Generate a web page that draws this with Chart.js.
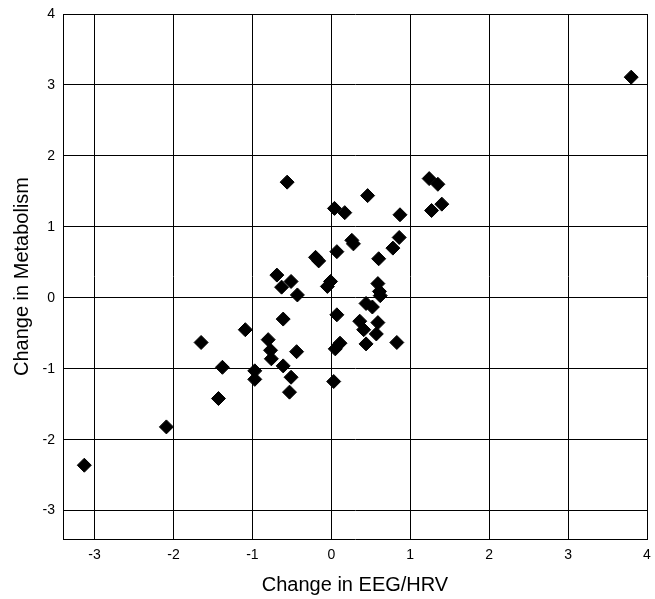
<!DOCTYPE html>
<html>
<head>
<meta charset="utf-8">
<title>Change in Metabolism vs Change in EEG/HRV</title>
<script src="https://cdn.jsdelivr.net/npm/chart.js@4/dist/chart.umd.min.js"></script>
<style>
  html, body { margin: 0; padding: 0; background: #fff; }
  #wrap { width: 655px; height: 599px; position: relative; }
</style>
</head>
<body>
<div id="wrap"><canvas id="scatterChart"></canvas></div>
<script>
// data
var eegHrv = [3.80, -3.13, -2.09, -1.43, -0.56, 0.04, 0.17, 0.46, 0.87, 1.24,
              1.35, 1.27, 1.40, 0.86, 0.78, 0.26, 0.28, 0.07, 0.60, -0.20,
              -0.16, -0.69, -0.51, -0.63, -0.43, -0.01, -0.05, 0.59, 0.62, 0.61,
              0.44, 0.52, 0.07, -0.61, 0.59, 0.36, 0.41, 0.57, 0.44, 0.83,
              0.11, 0.05, -1.09, -1.65, -0.80, -0.77, -0.76, -0.44, -0.61, -1.38,
              -0.97, -0.97, -0.51, -0.53, 0.03];
var metabolism = [3.11, -2.36, -1.82, -1.42, 1.63, 1.26, 1.20, 1.44, 1.17, 1.68,
                  1.60, 1.23, 1.32, 0.85, 0.70, 0.81, 0.76, 0.65, 0.55, 0.57,
                  0.52, 0.32, 0.23, 0.15, 0.04, 0.23, 0.16, 0.20, 0.03, 0.09,
                  -0.08, -0.13, -0.24, -0.30, -0.35, -0.33, -0.45, -0.51, -0.65, -0.63,
                  -0.64, -0.72, -0.45, -0.63, -0.59, -0.74, -0.86, -0.76, -0.96, -0.98,
                  -1.03, -1.15, -1.12, -1.33, -1.18];

var xTicks = [-3, -2, -1, 0, 1, 2, 3, 4];
var yTicks = [-3, -2, -1, 0, 1, 2, 3, 4];

var fontFamily = '"Liberation Sans", Arial, sans-serif';

var points = [];
for (var i = 0; i < eegHrv.length; i++) {
    points.push({ x: eegHrv[i], y: metabolism[i] });
}

function axisOptions(ticks, titleText, isX) {
    return {
        type: 'linear',
        min: -3.4,
        max: 4,
        afterBuildTicks: function(scale) {
            scale.ticks = ticks.map(function(v) { return { value: v }; });
        },
        afterFit: function(scale) {
            // fixed axis sizes so the plot area lines up with the reference
            if (isX) {
                scale.height = 60;
                scale.paddingLeft = 0;
                scale.paddingRight = 0;
            } else {
                scale.width = 63;
                scale.paddingTop = 0;
                scale.paddingBottom = 0;
            }
        },
        grid: {
            color: '#000',
            lineWidth: 1,
            drawTicks: false,
            tickLength: 0
        },
        border: { display: true, color: '#000', width: 1 },
        ticks: {
            color: '#000',
            padding: 8,
            font: { family: fontFamily, size: 14 },
            callback: function(v) { return v; }
        },
        title: {
            display: true,
            text: titleText,
            color: '#000',
            font: { family: fontFamily, size: 20 },
            padding: isX ? { top: 0, bottom: 2 } : { top: 10, bottom: 0 }
        }
    };
}

var ctx = document.getElementById('scatterChart').getContext('2d');
var scatterChart = new Chart(ctx, {
    type: 'scatter',
    data: {
        datasets: [{
            label: 'Change in Metabolism',
            data: points,
            pointStyle: 'rectRot',
            pointRadius: 7,
            backgroundColor: '#000',
            borderColor: '#000',
            borderWidth: 1
        }]
    },
    options: {
        responsive: true,
        maintainAspectRatio: false,
        animation: false,
        layout: { padding: { top: 14, right: 2, left: 0, bottom: 0 } },
        plugins: {
            legend: { display: false },
            tooltip: { enabled: false }
        },
        scales: {
            x: axisOptions(xTicks, 'Change in EEG/HRV', true),
            y: axisOptions(yTicks, 'Change in Metabolism', false)
        }
    }
});
</script>
</body>
</html>
